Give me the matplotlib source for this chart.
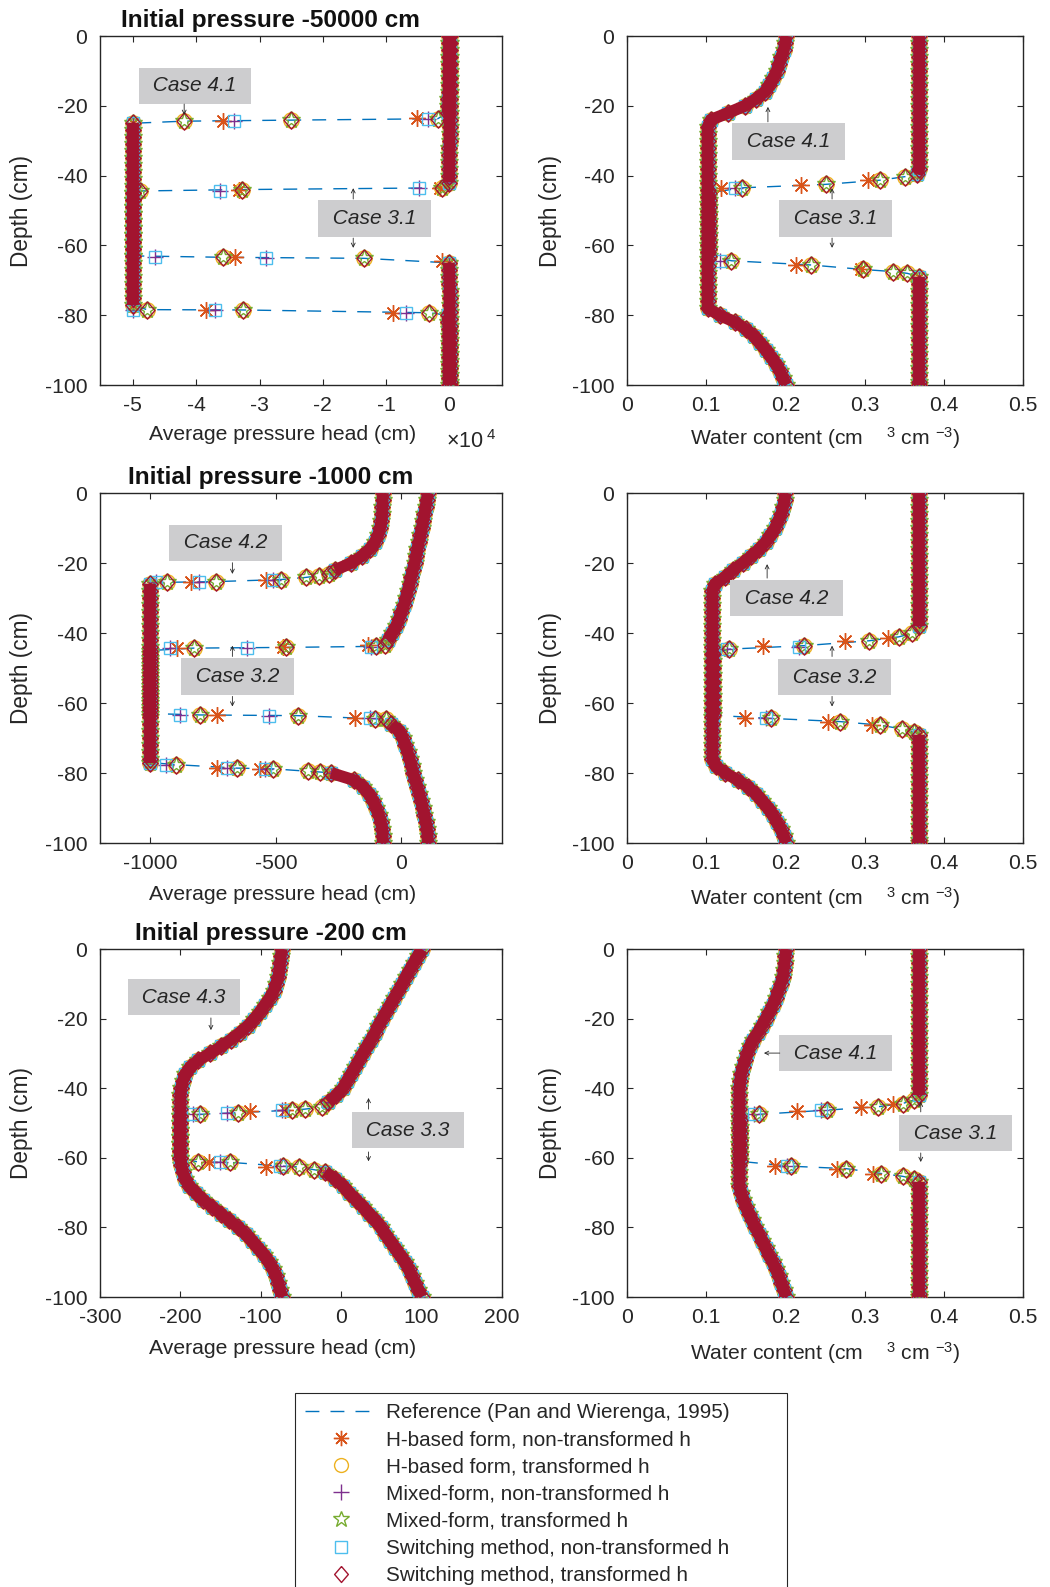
import matplotlib.pyplot as plt
from matplotlib.lines import Line2D
from matplotlib.ticker import FuncFormatter

plt.rcParams['font.family'] = ['Liberation Sans', 'DejaVu Sans']
plt.rcParams['axes.unicode_minus'] = False
plt.rcParams['mathtext.fontset'] = 'custom'
plt.rcParams['mathtext.rm'] = 'Liberation Sans'
plt.rcParams['mathtext.it'] = 'Liberation Sans:italic'
plt.rcParams['mathtext.bf'] = 'Liberation Sans:bold'

INK = '#262626'
C_REF = '#0072BD'

# ---------------- data (depth in cm, pressure head in cm, water content in cm3/cm3)
depth_grid = [0, -2, -4, -6, -8, -10, -12, -14, -16, -18, -20, -22, -24, -26, -28, -30, -32,
              -34, -36, -38, -40, -42, -44, -46, -48, -50, -52, -54, -56, -58, -60, -62, -64,
              -66, -68, -70, -72, -74, -76, -78, -80, -82, -84, -86, -88, -90, -92, -94, -96,
              -98, -100]

# (a) initial pressure -50000 cm, pressure head
a41_top_z = [0, -2, -4, -6, -8, -10, -12, -14, -16, -18, -20, -22]
a41_top_v = [-70, -72, -74, -77, -80, -86, -94, -106, -125, -155, -200, -270]
a41_mid_z = [-25, -27, -29, -31, -33, -35, -37, -39, -41, -43, -45, -47, -49, -51, -53, -55,
             -57, -59, -61, -63, -65, -67, -69, -71, -73, -75, -77]
a41_mid_v = [-50000, -50000, -50000, -50000, -50000, -50000, -50000, -50000, -50000, -50000,
             -50000, -50000, -50000, -50000, -50000, -50000, -50000, -50000, -50000, -50000,
             -50000, -50000, -50000, -50000, -50000, -50000, -50000]
a41_bot_z = [-80, -82, -84, -86, -88, -90, -92, -94, -96, -98, -100]
a41_bot_v = [-280, -190, -150, -128, -112, -100, -90, -83, -78, -75, -74]
a41_f1_tr = [(-23.7, -1860), (-24.1, -25100), (-24.4, -42000)]
a41_f1_ast = [(-23.6, -5170), (-24.3, -35800)]
a41_f1_ps = [(-23.7, -3440), (-24.3, -34000)]
a41_f2_tr = [(-78.4, -47800), (-78.5, -32600), (-79.3, -3200)]
a41_f2_ast = [(-78.5, -38500), (-79.3, -8870)]
a41_f2_ps = [(-78.5, -50000), (-78.5, -37000), (-79.3, -6870)]

a31_top_z = [0, -2, -4, -6, -8, -10, -12, -14, -16, -18, -20, -22, -24, -26, -28, -30, -32,
             -34, -36, -38, -40, -42]
a31_top_v = [100, 96, 91, 87, 82, 77, 72, 66, 60, 54, 48, 42, 35, 28, 20, 12, 3, -7, -20,
             -35, -55, -85]
a31_mid_z = [-45, -47, -49, -51, -53, -55, -57, -59, -61, -63]
a31_mid_v = [-50000, -50000, -50000, -50000, -50000, -50000, -50000, -50000, -50000, -50000]
a31_bot_z = [-65, -67, -69, -71, -73, -75, -77, -79, -81, -83, -85, -87, -89, -91, -93, -95,
             -97, -99, -100]
a31_bot_v = [-90, -45, -15, 3, 14, 23, 31, 39, 46, 54, 61, 68, 75, 82, 88, 94, 99, 103, 105]
a31_f1_tr = [(-43.5, -1200), (-44.0, -32800), (-44.4, -48900)]
a31_f1_ast = [(-43.5, -1500), (-44.0, -33300)]
a31_f1_ps = [(-43.5, -4760), (-44.4, -36200)]
a31_f2_tr = [(-63.4, -35800), (-63.7, -13500)]
a31_f2_ast = [(-63.4, -33900), (-64.5, -1200)]
a31_f2_ps = [(-63.4, -46500), (-63.5, -28900)]

# (b) initial pressure -50000 cm, water content
b41_v = [0.201, 0.200, 0.198, 0.195, 0.192, 0.189, 0.185, 0.180, 0.174, 0.163, 0.149, 0.128,
         0.106, 0.102, 0.102, 0.102, 0.102, 0.102, 0.102, 0.102, 0.102, 0.102, 0.102, 0.102,
         0.102, 0.102, 0.102, 0.102, 0.102, 0.102, 0.102, 0.102, 0.102, 0.102, 0.102, 0.102,
         0.102, 0.102, 0.102, 0.102, 0.117, 0.137, 0.150, 0.160, 0.168, 0.175, 0.182, 0.188,
         0.193, 0.197, 0.201]
b31_top_z = [0, -2, -4, -6, -8, -10, -12, -14, -16, -18, -20, -22, -24, -26, -28, -30, -32,
             -34, -36, -38, -39.5]
b31_top_v = [0.369, 0.369, 0.369, 0.369, 0.369, 0.369, 0.369, 0.369, 0.369, 0.369, 0.369,
             0.369, 0.369, 0.369, 0.369, 0.369, 0.369, 0.369, 0.369, 0.369, 0.366]
b31_mid_z = [-45, -47, -49, -51, -53, -55, -57, -59, -61, -63]
b31_mid_v = [0.103, 0.103, 0.103, 0.103, 0.103, 0.103, 0.103, 0.103, 0.103, 0.103]
b31_bot_z = [-69, -71, -73, -75, -77, -79, -81, -83, -85, -87, -89, -91, -93, -95, -97, -99,
             -100]
b31_bot_v = [0.369, 0.369, 0.369, 0.369, 0.369, 0.369, 0.369, 0.369, 0.369, 0.369, 0.369,
             0.369, 0.369, 0.369, 0.369, 0.369, 0.369]
b31_f1_tr = [(-40.3, 0.351), (-41.3, 0.320), (-42.5, 0.251), (-43.5, 0.145)]
b31_f1_ast = [(-41.3, 0.305), (-42.7, 0.220), (-43.5, 0.119)]
b31_f1_ps = [(-43.6, 0.137)]
b31_f2_tr = [(-64.4, 0.132), (-65.6, 0.232), (-66.9, 0.2985), (-67.5, 0.336), (-68.0, 0.354)]
b31_f2_ast = [(-65.6, 0.214), (-66.9, 0.296)]
b31_f2_ps = [(-64.4, 0.117)]

# (c) initial pressure -1000 cm, pressure head
c42_top_z = [0, -2, -4, -6, -8, -10, -12, -14, -16, -18, -20, -22]
c42_top_v = [-74, -75, -76, -77, -80, -85, -93, -106, -127, -158, -200, -265]
c42_mid_z = [-26, -28, -30, -32, -34, -36, -38, -40, -42, -44, -46, -48, -50, -52, -54, -56,
             -58, -60, -62, -64, -66, -68, -70, -72, -74, -76, -77]
c42_mid_v = [-1000, -1000, -1000, -1000, -1000, -1000, -1000, -1000, -1000, -1000, -1000,
             -1000, -1000, -1000, -1000, -1000, -1000, -1000, -1000, -1000, -1000, -1000,
             -1000, -1000, -1000, -1000, -1000]
c42_bot_z = [-80, -82, -84, -86, -88, -90, -92, -94, -96, -98, -100]
c42_bot_v = [-280, -190, -152, -130, -112, -101, -90, -82, -77, -75, -74]
c42_f1_tr = [(-23.0, -290), (-23.6, -330), (-24.1, -381), (-24.7, -478), (-25.3, -739),
             (-25.5, -935)]
c42_f1_ast = [(-24.7, -538), (-25.3, -836)]
c42_f1_ps = [(-24.7, -511), (-25.3, -805), (-25.5, -975)]
c42_f2_tr = [(-77.6, -899), (-78.6, -653), (-78.8, -511), (-79.5, -372), (-79.7, -326)]
c42_f2_ast = [(-78.6, -736), (-78.8, -564)]
c42_f2_ps = [(-77.6, -939), (-78.6, -693), (-78.8, -542)]

c32_top_z = [0, -2, -4, -6, -8, -10, -12, -14, -16, -18, -20, -22, -24, -26, -28, -30, -32,
             -34, -36, -38, -40, -42]
c32_top_v = [105, 100, 96, 91, 86, 81, 75, 69, 63, 58, 52, 45, 38, 32, 24, 17, 10, 0, -10,
             -21, -38, -55]
c32_mid_z = [-45, -47, -49, -51, -53, -55, -57, -59, -61, -63]
c32_mid_v = [-1000, -1000, -1000, -1000, -1000, -1000, -1000, -1000, -1000, -1000]
c32_bot_z = [-66, -68, -70, -72, -74, -76, -78, -80, -82, -84, -86, -88, -90, -92, -94, -96,
             -98, -100]
c32_bot_v = [-40, -10, 5, 15, 24, 32, 40, 46, 55, 63, 71, 78, 84, 91, 97, 101, 104, 105]
c32_f1_tr = [(-43.5, -65), (-43.8, -101), (-44.1, -458), (-44.3, -825)]
c32_f1_ast = [(-43.4, -134), (-44.0, -472), (-44.3, -895)]
c32_f1_ps = [(-44.0, -120), (-44.2, -615), (-44.4, -922)]
c32_f2_tr = [(-63.4, -803), (-63.6, -412), (-64.5, -107), (-64.6, -61)]
c32_f2_ast = [(-63.5, -736), (-64.4, -187)]
c32_f2_ps = [(-63.3, -882), (-63.6, -527), (-64.4, -127)]

# (d) initial pressure -1000 cm, water content
d42_v = [0.200, 0.199, 0.197, 0.195, 0.191, 0.187, 0.181, 0.175, 0.167, 0.157, 0.146, 0.134,
         0.124, 0.111, 0.108, 0.108, 0.108, 0.108, 0.108, 0.108, 0.108, 0.108, 0.108, 0.108,
         0.108, 0.108, 0.108, 0.108, 0.108, 0.108, 0.108, 0.108, 0.108, 0.108, 0.108, 0.108,
         0.108, 0.108, 0.108, 0.112, 0.124, 0.140, 0.153, 0.163, 0.171, 0.178, 0.184, 0.189,
         0.194, 0.198, 0.201]
d32_top_z = [0, -2, -4, -6, -8, -10, -12, -14, -16, -18, -20, -22, -24, -26, -28, -30, -32,
             -34, -36, -38]
d32_top_v = [0.369, 0.369, 0.369, 0.369, 0.369, 0.369, 0.369, 0.369, 0.369, 0.369, 0.369,
             0.369, 0.369, 0.369, 0.369, 0.369, 0.369, 0.369, 0.369, 0.369]
d32_mid_z = [-46, -48, -50, -52, -54, -56, -58, -60, -62, -63.5]
d32_mid_v = [0.109, 0.109, 0.109, 0.109, 0.109, 0.109, 0.109, 0.109, 0.109, 0.109]
d32_bot_z = [-69, -71, -73, -75, -77, -79, -81, -83, -85, -87, -89, -91, -93, -95, -97, -99,
             -100]
d32_bot_v = [0.369, 0.369, 0.369, 0.369, 0.369, 0.369, 0.369, 0.369, 0.369, 0.369, 0.369,
             0.369, 0.369, 0.369, 0.369, 0.369, 0.369]
d32_f1_tr = [(-40.1, 0.360), (-41.1, 0.343), (-42.2, 0.306), (-43.6, 0.224), (-44.6, 0.129)]
d32_f1_ast = [(-41.3, 0.330), (-42.2, 0.275), (-43.6, 0.172)]
d32_f1_ps = [(-44.0, 0.2175), (-44.6, 0.126)]
d32_f2_tr = [(-64.4, 0.1825), (-65.3, 0.269), (-66.3, 0.319), (-67.4, 0.347), (-68.2, 0.362)]
d32_f2_ast = [(-64.4, 0.149), (-65.3, 0.254), (-66.4, 0.310)]
d32_f2_ps = [(-64.4, 0.176)]

# (e) initial pressure -200 cm, pressure head
e43_v = [-74, -75, -76, -77, -78, -81, -84, -89, -95, -101, -108, -116, -126, -137, -149,
         -163, -178, -188, -194, -197, -199, -200, -200, -200, -200, -200, -200, -200, -200,
         -200, -200, -199, -197, -194, -189, -181, -172, -161, -150, -139, -128, -119, -111,
         -103, -96, -90, -85, -81, -78, -76, -74]
e33_top_z = [0, -2, -4, -6, -8, -10, -12, -14, -16, -18, -20, -22, -24, -26, -28, -30, -32,
             -34, -36, -38, -40, -42, -44]
e33_top_v = [100, 95, 90, 85, 80, 76, 71, 66, 61, 56, 51, 46, 42, 37, 32, 27, 22, 17, 12, 7,
             2, -6, -16]
e33_mid_z = [-48, -50, -52, -54, -56, -58, -60]
e33_mid_v = [-200, -200, -200, -200, -200, -200, -200]
e33_bot_z = [-64, -66, -68, -70, -72, -74, -76, -78, -80, -82, -84, -86, -88, -90, -92, -94,
             -96, -98, -100]
e33_bot_v = [-20, -8, 2, 10, 18, 27, 35, 42, 49, 55, 61, 67, 73, 79, 84, 88, 92, 96, 100]
e33_f1_tr = [(-45.4, -24), (-46.0, -45), (-46.3, -61), (-47.0, -128), (-47.5, -176)]
e33_f1_ast = [(-46.3, -70), (-46.6, -114)]
e33_f1_ps = [(-46.3, -74), (-47.0, -142), (-47.5, -184)]
e33_f2_tr = [(-61.2, -178), (-61.3, -138), (-62.4, -72), (-62.6, -53), (-63.4, -34)]
e33_f2_ast = [(-61.3, -164), (-62.5, -93)]
e33_f2_ps = [(-61.3, -151), (-62.4, -76)]

# (f) initial pressure -200 cm, water content
f41_v = [0.201, 0.200, 0.199, 0.198, 0.197, 0.194, 0.191, 0.188, 0.184, 0.180, 0.175, 0.170,
         0.165, 0.159, 0.155, 0.152, 0.149, 0.146, 0.144, 0.143, 0.142, 0.142, 0.142, 0.142,
         0.142, 0.142, 0.142, 0.142, 0.142, 0.142, 0.142, 0.142, 0.142, 0.142, 0.142, 0.144,
         0.147, 0.150, 0.154, 0.158, 0.162, 0.167, 0.171, 0.175, 0.179, 0.184, 0.188, 0.192,
         0.195, 0.198, 0.201]
f31_top_z = [0, -2, -4, -6, -8, -10, -12, -14, -16, -18, -20, -22, -24, -26, -28, -30, -32,
             -34, -36, -38, -40, -42]
f31_top_v = [0.369, 0.369, 0.369, 0.369, 0.369, 0.369, 0.369, 0.369, 0.369, 0.369, 0.369,
             0.369, 0.369, 0.369, 0.369, 0.369, 0.369, 0.369, 0.369, 0.369, 0.369, 0.369]
f31_mid_z = [-49, -51, -53, -55, -57, -59, -61]
f31_mid_v = [0.1425, 0.1425, 0.1425, 0.1425, 0.1425, 0.1425, 0.1425]
f31_bot_z = [-67, -69, -71, -73, -75, -77, -79, -81, -83, -85, -87, -89, -91, -93, -95, -97,
             -99, -100]
f31_bot_v = [0.369, 0.369, 0.369, 0.369, 0.369, 0.369, 0.369, 0.369, 0.369, 0.369, 0.369,
             0.369, 0.369, 0.369, 0.369, 0.369, 0.369, 0.369]
f31_f1_tr = [(-43.4, 0.362), (-44.4, 0.348), (-45.3, 0.3175), (-46.3, 0.252), (-47.5, 0.1665)]
f31_f1_ast = [(-44.6, 0.3356), (-45.3, 0.296), (-46.5, 0.215)]
f31_f1_ps = [(-46.3, 0.245), (-47.5, 0.161)]
f31_f2_tr = [(-62.4, 0.2066), (-63.1, 0.2766), (-64.5, 0.321), (-65.3, 0.348), (-66.0, 0.362)]
f31_f2_ast = [(-62.4, 0.187), (-63.3, 0.265), (-64.5, 0.311)]
f31_f2_ps = [(-62.4, 0.2015)]

method_labels = ['H-based form, non-transformed h', 'H-based form, transformed h',
                 'Mixed-form, non-transformed h', 'Mixed-form, transformed h',
                 'Switching method, non-transformed h', 'Switching method, transformed h']
diamond = [(0, 1), (0.86, 0), (0, -1), (-0.86, 0), (0, 1)]
method_markers = [(8, 2, 0), 'o', '+', '*', 's', diamond]
method_colors = ['#D95319', '#EDB120', '#7E2F8E', '#77AC30', '#4DBEEE', '#A2142F']
method_sizes = [12, 11, 12, 13, 9, 12.5]
method_group = ['ast', 'tr', 'ps', 'tr', 'ps', 'tr']
method_z = [3.0, 3.1, 3.2, 3.3, 3.4, 3.6]


def draw_case(ax, segs, fr_tr=(), fr_ast=(), fr_ps=()):
    # reference solution: dashed line through the profile and the front nodes
    rz, rv = [], []
    for k, (z, v) in enumerate(segs):
        rz += list(z)
        rv += list(v)
        if k < len(fr_tr):
            rz += [p[0] for p in fr_tr[k]]
            rv += [p[1] for p in fr_tr[k]]
    ax.plot(rv, rz, color=C_REF, lw=1.0, dashes=(10, 8), zorder=2)

    fronts = {'tr': fr_tr, 'ast': fr_ast, 'ps': fr_ps}
    for i in range(6):
        zs = [zz for z, v in segs for zz in z]
        vs = [vv for z, v in segs for vv in v]
        for fr in fronts[method_group[i]]:
            zs += [p[0] for p in fr]
            vs += [p[1] for p in fr]
        ax.plot(vs, zs, ls='none', marker=method_markers[i], ms=method_sizes[i],
                mec=method_colors[i], mfc='none', mew=1.0, zorder=method_z[i])
    # the dense marker band
    for z, v in segs:
        ax.plot(v, z, color='#A2142F', lw=8.5, solid_capstyle='butt', zorder=3.55)


def case_box(ax, text, x, y):
    ax.text(x, y, ' ' + text + ' ', fontsize=15, style='italic', color=INK,
            ha='center', va='center', zorder=6,
            bbox=dict(boxstyle='square,pad=0.42', fc='#CDCDCF', ec='none'))


def small_arrow(ax, x0, y0, x1, y1):
    ax.annotate('', xy=(x1, y1), xytext=(x0, y0), zorder=6,
                arrowprops=dict(arrowstyle='->', color=INK, lw=0.6,
                                shrinkA=0, shrinkB=0, mutation_scale=7))


def style_axes(ax, xlim, xticks, fmt, xlabel, xl_pos, title=None):
    ax.set_xlim(xlim)
    ax.set_ylim(-100, 0)
    ax.set_xticks(xticks)
    ax.set_yticks([0, -20, -40, -60, -80, -100])
    ax.xaxis.set_major_formatter(FuncFormatter(fmt))
    ax.yaxis.set_major_formatter(FuncFormatter(lambda v, p: '%g' % v))
    ax.tick_params(direction='in', length=4, width=0.8, top=True, right=True,
                   labelsize=15.2, colors=INK)
    ax.tick_params(axis='x', pad=8)
    ax.tick_params(axis='y', pad=9)
    for s in ax.spines.values():
        s.set_color(INK)
        s.set_linewidth(1.0)
    ax.set_xlabel(xlabel, fontsize=15.2, color=INK, va='center')
    ax.set_ylabel('Depth (cm)', fontsize=16.3, color=INK, va='center')
    ax.xaxis.set_label_coords(*xl_pos)
    ax.yaxis.set_label_coords(-0.194, 0.5)
    if title:
        ax.set_title(title, x=0.425, pad=6.5, fontsize=17.6, fontweight='bold', color='#111111')


fig = plt.figure(figsize=(10.5, 15.87), dpi=100)
col_x = [0.0952, 0.5971]
col_w = [0.3829, 0.3771]
row_y = [0.7574, 0.4688, 0.1827]
row_h = [0.2199, 0.2205, 0.2193]
axs = [[fig.add_axes([col_x[c], row_y[r], col_w[c], row_h[r]]) for c in range(2)]
       for r in range(3)]

wc_label = 'Water content (cm    $^{3}$ cm $^{-3}$)'
ph_label = 'Average pressure head (cm)'
g = lambda v, p: '%g' % v

# ---- row 1
ax = axs[0][0]
draw_case(ax, [(a41_top_z, a41_top_v), (a41_mid_z, a41_mid_v), (a41_bot_z, a41_bot_v)],
          [a41_f1_tr, a41_f2_tr], [a41_f1_ast, a41_f2_ast], [a41_f1_ps, a41_f2_ps])
draw_case(ax, [(a31_top_z, a31_top_v), (a31_mid_z, a31_mid_v), (a31_bot_z, a31_bot_v)],
          [a31_f1_tr, a31_f2_tr], [a31_f1_ast, a31_f2_ast], [a31_f1_ps, a31_f2_ps])
style_axes(ax, (-55200, 8300), [-50000, -40000, -30000, -20000, -10000, 0],
           lambda v, p: '%g' % (v / 1e4), ph_label, (0.455, -0.143),
           'Initial pressure -50000 cm')
ax.text(0.86, -0.163, '×10$^{\\;4}$', transform=ax.transAxes, fontsize=15.5, color=INK,
        ha='left', va='center')
case_box(ax, 'Case 4.1', -40200, -14.3)
small_arrow(ax, -41900, -19.5, -41900, -22.6)
case_box(ax, 'Case 3.1', -11800, -52.3)
small_arrow(ax, -15200, -46.7, -15200, -43.6)
small_arrow(ax, -15200, -57.9, -15200, -60.7)

ax = axs[0][1]
draw_case(ax, [(depth_grid, b41_v)])
draw_case(ax, [(b31_top_z, b31_top_v), (b31_mid_z, b31_mid_v), (b31_bot_z, b31_bot_v)],
          [b31_f1_tr, b31_f2_tr], [b31_f1_ast, b31_f2_ast], [b31_f1_ps, b31_f2_ps])
style_axes(ax, (0, 0.5), [0, 0.1, 0.2, 0.3, 0.4, 0.5], g, wc_label, (0.5, -0.152))
case_box(ax, 'Case 4.1', 0.204, -30.2)
small_arrow(ax, 0.178, -24.6, 0.178, -20.3)
case_box(ax, 'Case 3.1', 0.263, -52.3)
small_arrow(ax, 0.259, -46.7, 0.259, -43.6)
small_arrow(ax, 0.259, -57.9, 0.259, -60.7)

# ---- row 2
ax = axs[1][0]
draw_case(ax, [(c42_top_z, c42_top_v), (c42_mid_z, c42_mid_v), (c42_bot_z, c42_bot_v)],
          [c42_f1_tr, c42_f2_tr], [c42_f1_ast, c42_f2_ast], [c42_f1_ps, c42_f2_ps])
draw_case(ax, [(c32_top_z, c32_top_v), (c32_mid_z, c32_mid_v), (c32_bot_z, c32_bot_v)],
          [c32_f1_tr, c32_f2_tr], [c32_f1_ast, c32_f2_ast], [c32_f1_ps, c32_f2_ps])
style_axes(ax, (-1200, 400), [-1000, -500, 0], g, ph_label, (0.455, -0.148),
           'Initial pressure -1000 cm')
case_box(ax, 'Case 4.2', -700, -14.2)
small_arrow(ax, -673, -19.9, -673, -23.1)
case_box(ax, 'Case 3.2', -652, -52.4)
small_arrow(ax, -673, -46.7, -673, -43.6)
small_arrow(ax, -673, -58.1, -673, -61.0)

ax = axs[1][1]
draw_case(ax, [(depth_grid, d42_v)])
draw_case(ax, [(d32_top_z, d32_top_v), (d32_mid_z, d32_mid_v), (d32_bot_z, d32_bot_v)],
          [d32_f1_tr, d32_f2_tr], [d32_f1_ast, d32_f2_ast], [d32_f1_ps, d32_f2_ps])
style_axes(ax, (0, 0.5), [0, 0.1, 0.2, 0.3, 0.4, 0.5], g, wc_label, (0.5, -0.157))
case_box(ax, 'Case 4.2', 0.2015, -30.0)
small_arrow(ax, 0.177, -24.3, 0.177, -20.3)
case_box(ax, 'Case 3.2', 0.262, -52.6)
small_arrow(ax, 0.259, -46.7, 0.259, -43.6)
small_arrow(ax, 0.259, -58.1, 0.259, -61.0)

# ---- row 3
ax = axs[2][0]
draw_case(ax, [(depth_grid, e43_v)])
draw_case(ax, [(e33_top_z, e33_top_v), (e33_mid_z, e33_mid_v), (e33_bot_z, e33_bot_v)],
          [e33_f1_tr, e33_f2_tr], [e33_f1_ast, e33_f2_ast], [e33_f1_ps, e33_f2_ps])
style_axes(ax, (-300, 200), [-300, -200, -100, 0, 100, 200], g, ph_label, (0.455, -0.148),
           'Initial pressure -200 cm')
case_box(ax, 'Case 4.3', -195.5, -13.8)
small_arrow(ax, -162, -19.8, -162, -23.3)
case_box(ax, 'Case 3.3', 83, -52.0)
small_arrow(ax, 34, -46.0, 34, -42.8)
small_arrow(ax, 34, -58.3, 34, -61.0)

ax = axs[2][1]
draw_case(ax, [(depth_grid, f41_v)])
draw_case(ax, [(f31_top_z, f31_top_v), (f31_mid_z, f31_mid_v), (f31_bot_z, f31_bot_v)],
          [f31_f1_tr, f31_f2_tr], [f31_f1_ast, f31_f2_ast], [f31_f1_ps, f31_f2_ps])
style_axes(ax, (0, 0.5), [0, 0.1, 0.2, 0.3, 0.4, 0.5], g, wc_label, (0.5, -0.16))
case_box(ax, 'Case 4.1', 0.263, -29.9)
small_arrow(ax, 0.193, -29.9, 0.173, -29.9)
case_box(ax, 'Case 3.1', 0.415, -52.9)
small_arrow(ax, 0.371, -46.8, 0.371, -43.9)
small_arrow(ax, 0.371, -58.6, 0.371, -61.2)

# ---- legend
handles = [Line2D([], [], color=C_REF, lw=1.0, dashes=(10, 8))]
for i in range(6):
    handles.append(Line2D([], [], ls='none', marker=method_markers[i], ms=method_sizes[i] - 1,
                          mec=method_colors[i], mfc='none', mew=1.0))
labels = ['Reference (Pan and Wierenga, 1995)'] + method_labels
leg = fig.legend(handles, labels, loc='upper left', bbox_to_anchor=(0.281, 0.1222, 0.4686, 0),
                 mode='expand', borderaxespad=0, fontsize=14.9, frameon=True, fancybox=False,
                 edgecolor=INK, framealpha=1, borderpad=0.5, labelspacing=0.39,
                 handlelength=3.4, handletextpad=0.5)
leg.get_frame().set_linewidth(0.8)
for t in leg.get_texts():
    t.set_color(INK)

fig.savefig('out.png', dpi=100)
